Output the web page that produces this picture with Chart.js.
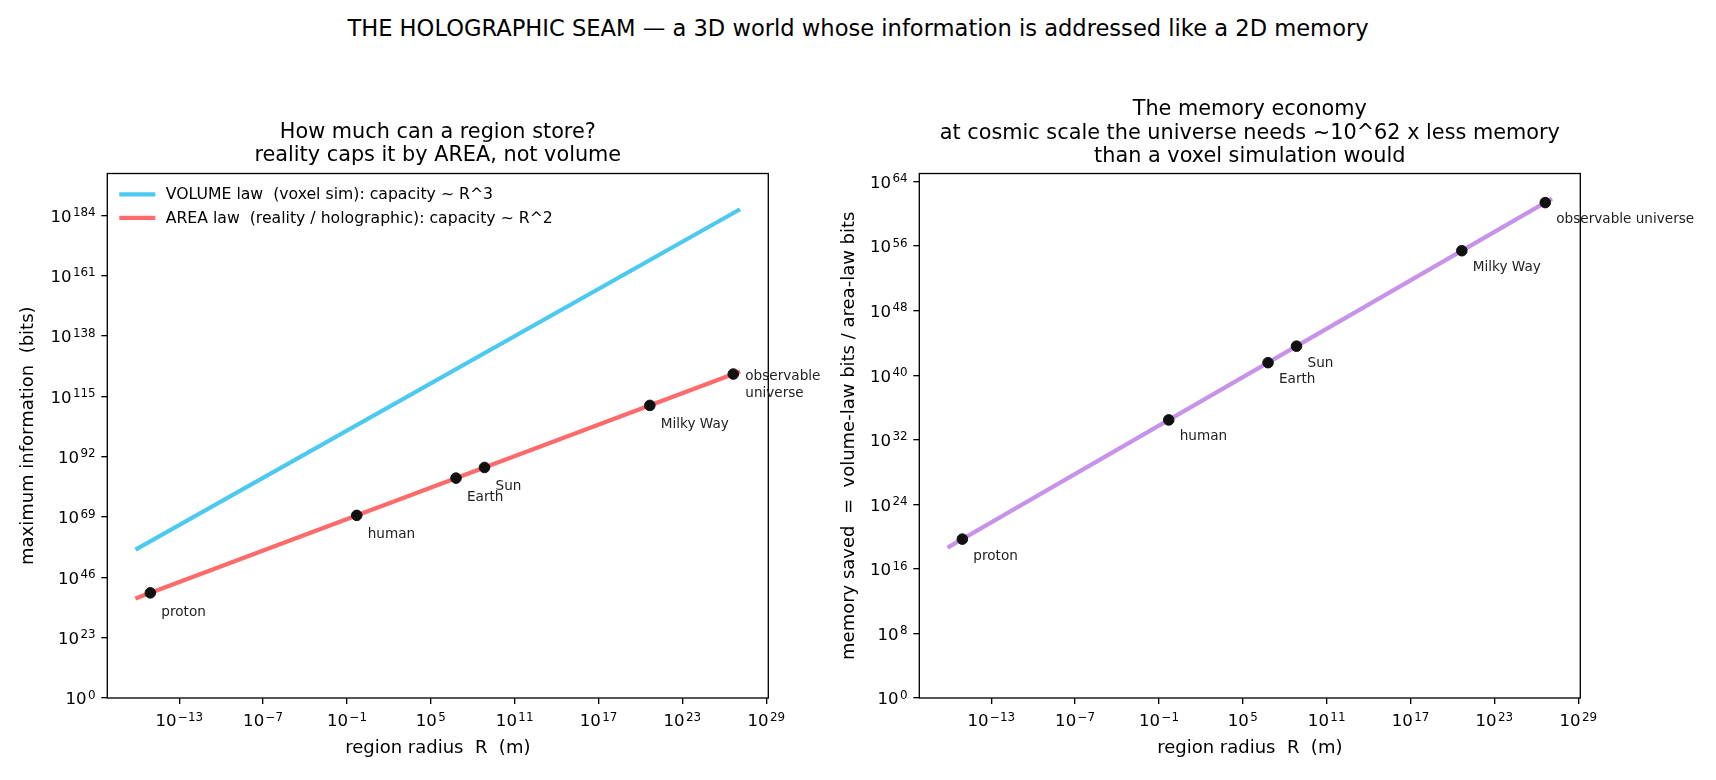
<!DOCTYPE html>
<html><head><meta charset="utf-8">
<script src="https://cdn.jsdelivr.net/npm/chart.js@4.4.1/dist/chart.umd.min.js"></script>
<style>
html,body{margin:0;padding:0;background:#fff;width:1716px;height:780px;overflow:hidden;}
#sup{position:absolute;left:0;top:13.5px;width:1716px;text-align:center;font-family:"DejaVu Sans";font-size:22.6px;line-height:28px;color:#000;white-space:nowrap;}
#c1{position:absolute;left:0;top:0;}
#c2{position:absolute;left:820px;top:0;}
</style></head><body>
<div id="sup">THE HOLOGRAPHIC SEAM — a 3D world whose information is addressed like a 2D memory</div>
<canvas id="c1" width="858" height="780"></canvas>
<canvas id="c2" width="896" height="780"></canvas>
<script>
// ---------------- data ----------------
const objectNames    = ['proton', 'human', 'Earth', 'Sun', 'Milky Way', 'observable universe'];
const objectRadius   = [8.5e-16, 0.5, 6.37e6, 6.96e8, 4.7e20, 4.4e26];      // m
const objectAreaBits = [1.26e40, 4.4e69, 7.1e83, 8.3e87, 3.8e111, 3.4e123]; // bits (area law)
const objectSaving   = [4.9e19, 2.9e34, 3.6e41, 4.0e43, 2.7e55, 2.5e61];   // volume bits / area bits

const lawRadius   = [1e-16, 1e27];
const volumeBits  = [9.8e56, 9.8e185];
const areaBits    = [1.7e38, 1.7e124];
const savingRatio = [5.7e18, 5.7e61];

const xTickExps      = [-13, -7, -1, 5, 11, 17, 23, 29];
const leftYTickExps  = [0, 23, 46, 69, 92, 115, 138, 161, 184];
const rightYTickExps = [0, 8, 16, 24, 32, 40, 48, 56, 64];

const xLimExp      = [-18.15, 29.15];
const leftYLimExp  = [0, 200];
const rightYLimExp = [0, 65];

const volumeLabel = 'VOLUME law  (voxel sim): capacity ~ R^3';
const areaLabel   = 'AREA law  (reality / holographic): capacity ~ R^2';

// ---------------- helpers ----------------
Chart.defaults.font.family = '"DejaVu Sans"';
Chart.defaults.color = '#000';
const SUP = {'0':'⁰','1':'¹','2':'²','3':'³','4':'⁴','5':'⁵','6':'⁶','7':'⁷','8':'⁸','9':'⁹','-':'⁻'};
const pow10Label = e => '10' + String(e).split('').map(c => SUP[c]).join('');
const toXY = (xs, ys) => xs.map((x, i) => ({x: x, y: ys[i]}));
const LW = 4.17;
const FONT = '"DejaVu Sans"';

const framePlugin = {
  id: 'frame',
  afterDatasetsDraw(chart) {
    const a = chart.chartArea, ctx = chart.ctx;
    ctx.save(); ctx.strokeStyle = '#000'; ctx.lineWidth = 1.33;
    ctx.strokeRect(a.left, a.top, a.right - a.left, a.bottom - a.top);
    ctx.restore();
  }
};
// power-of-ten tick labels with a real superscript exponent
const supTickPlugin = {
  id: 'supTicks',
  afterDraw(chart) {
    const ctx = chart.ctx, a = chart.chartArea;
    const base = 16.6, sup = 11.9, gap = 1.4;
    ctx.save();
    ctx.fillStyle = '#000'; ctx.textAlign = 'left'; ctx.textBaseline = 'alphabetic';
    ['x', 'y'].forEach(id => {
      const s = chart.scales[id];
      s.ticks.forEach(t => {
        const e = Math.round(Math.log10(t.value));
        const es = e < 0 ? '\u2212' + Math.abs(e) : String(e);
        ctx.font = base + 'px ' + FONT; const w1 = ctx.measureText('10').width;
        ctx.font = sup + 'px ' + FONT;  const w2 = ctx.measureText(es).width;
        const w = w1 + gap + w2;
        let x0, yb;
        if (id === 'x') { x0 = s.getPixelForValue(t.value) - w / 2; yb = a.bottom + 28.3; }
        else { x0 = a.left - 11.7 - w; yb = s.getPixelForValue(t.value) + 6.3; }
        ctx.font = base + 'px ' + FONT; ctx.fillText('10', x0, yb);
        ctx.font = sup + 'px ' + FONT;  ctx.fillText(es, x0 + w1 + gap, yb - 5.6);
      });
    });
    ctx.restore();
  }
};
const pointLabelPlugin = {
  id: 'pointLabels',
  afterDatasetsDraw(chart, args, opts) {
    const ctx = chart.ctx, xs = chart.scales.x, ys = chart.scales.y;
    ctx.save();
    ctx.font = '13.6px ' + FONT; ctx.fillStyle = '#222';
    ctx.textAlign = 'left'; ctx.textBaseline = 'alphabetic';
    opts.names.forEach((n, i) => {
      const px = xs.getPixelForValue(opts.xv[i]), py = ys.getPixelForValue(opts.yv[i]);
      const sp = opts.special && opts.special[n];
      const lines = sp ? sp.lines : [n];
      const dx = sp ? sp.dx : opts.dx, dy = sp ? sp.dy : opts.dy;
      lines.forEach((t, k) => ctx.fillText(t, px + dx, py + dy + k * 16.5));
    });
    ctx.restore();
  }
};
const legendPlugin = {
  id: 'innerLegend',
  afterDraw(chart) {
    const ctx = chart.ctx, a = chart.chartArea;
    const items = chart.data.datasets.filter(d => d.inLegend);
    ctx.save();
    ctx.font = '15.7px ' + FONT; ctx.textAlign = 'left'; ctx.textBaseline = 'middle';
    items.forEach((d, i) => {
      const y = a.top + 20.8 + i * 23.6;
      ctx.strokeStyle = d.borderColor; ctx.lineWidth = LW; ctx.lineCap = 'butt';
      ctx.beginPath(); ctx.moveTo(a.left + 12, y); ctx.lineTo(a.left + 48, y); ctx.stroke();
      ctx.fillStyle = '#000'; ctx.fillText(d.label, a.left + 58.4, y + 1);
    });
    ctx.restore();
  }
};

function makeScales(yLim, yTicks, yTitle, yWidth, yTitlePad) {
  const gridOpts = {drawOnChartArea: false, drawTicks: true, tickLength: 6, color: '#000', lineWidth: 1.33};
  return {
    x: {
      type: 'logarithmic', min: Math.pow(10, xLimExp[0]), max: Math.pow(10, xLimExp[1]),
      afterBuildTicks: s => { s.ticks = xTickExps.map(e => ({value: Math.pow(10, e)})); },
      afterFit: s => { s.height = 82; },
      ticks: {display: false, autoSkip: false, maxRotation: 0,
              callback: v => pow10Label(Math.round(Math.log10(v)))},
      grid: gridOpts, border: {display: false},
      title: {display: true, text: 'region radius  R  (m)', font: {size: 18}, color: '#000',
              padding: {top: 0, bottom: 20.6}}
    },
    y: {
      type: 'logarithmic', min: Math.pow(10, yLim[0]), max: Math.pow(10, yLim[1]),
      afterBuildTicks: s => { s.ticks = yTicks.map(e => ({value: Math.pow(10, e)})); },
      afterFit: s => { s.width = yWidth; },
      ticks: {display: false, autoSkip: false,
              callback: v => pow10Label(Math.round(Math.log10(v)))},
      grid: gridOpts, border: {display: false},
      title: {display: true, text: yTitle, font: {size: 18}, color: '#000',
              padding: {top: yTitlePad, bottom: 0}}
    }
  };
}

const dotStyle = {backgroundColor: '#111', borderColor: '#111', pointRadius: 5.3, pointBorderWidth: 1,
                  pointBackgroundColor: '#111', pointBorderColor: '#111', pointHoverRadius: 5.3, showLine: false};
const titleFont = {size: 20.8, weight: 'normal', lineHeight: 1.13};

// ---------------- left chart ----------------
new Chart(document.getElementById('c1'), {
  type: 'scatter',
  data: {
    datasets: [
      Object.assign({label: 'objects', data: toXY(objectRadius, objectAreaBits), order: 0}, dotStyle),
      {label: volumeLabel, inLegend: true, data: toXY(lawRadius, volumeBits), showLine: true,
       borderColor: '#4cc9f0', borderWidth: LW, borderCapStyle: 'square', pointRadius: 0, order: 2},
      {label: areaLabel, inLegend: true, data: toXY(lawRadius, areaBits), showLine: true,
       borderColor: '#ff6b6b', borderWidth: LW, borderCapStyle: 'square', pointRadius: 0, order: 1}
    ]
  },
  options: {
    responsive: false, animation: false, devicePixelRatio: 1,
    layout: {padding: {left: 0, right: 89.7, top: 0, bottom: 0}},
    scales: makeScales(leftYLimExp, leftYTickExps, 'maximum information  (bits)', 107.3, 17.7),
    plugins: {
      legend: {display: false}, tooltip: {enabled: false},
      title: {display: true, fullSize: false, text: ['How much can a region store?', 'reality caps it by AREA, not volume'],
              font: titleFont, color: '#000', padding: {top: 120.8, bottom: 5.7}},
      pointLabels: {names: objectNames, xv: objectRadius, yv: objectAreaBits, dx: 11, dy: 23,
                    special: {'observable universe': {lines: ['observable', 'universe'], dx: 12, dy: 6}}}
    }
  },
  plugins: [framePlugin, pointLabelPlugin, legendPlugin, supTickPlugin]
});

// ---------------- right chart ----------------
new Chart(document.getElementById('c2'), {
  type: 'scatter',
  data: {
    datasets: [
      Object.assign({label: 'objects', data: toXY(objectRadius, objectSaving), order: 0}, dotStyle),
      {label: 'saving', data: toXY(lawRadius, savingRatio), showLine: true,
       borderColor: '#c792ea', borderWidth: LW, borderCapStyle: 'square', pointRadius: 0, order: 1}
    ]
  },
  options: {
    responsive: false, animation: false, devicePixelRatio: 1,
    layout: {padding: {left: 0, right: 135.7, top: 0, bottom: 0}},
    scales: makeScales(rightYLimExp, rightYTickExps, 'memory saved  =  volume-law bits / area-law bits', 99.3, 18.4),
    plugins: {
      legend: {display: false}, tooltip: {enabled: false},
      title: {display: true, fullSize: false,
              text: ['The memory economy', 'at cosmic scale the universe needs ~10^62 x less memory', 'than a voxel simulation would'],
              font: titleFont, color: '#000', padding: {top: 98, bottom: 5}},
      pointLabels: {names: objectNames, xv: objectRadius, yv: objectSaving, dx: 11, dy: 20.5}
    }
  },
  plugins: [framePlugin, pointLabelPlugin, supTickPlugin]
});
</script>
</body></html>
